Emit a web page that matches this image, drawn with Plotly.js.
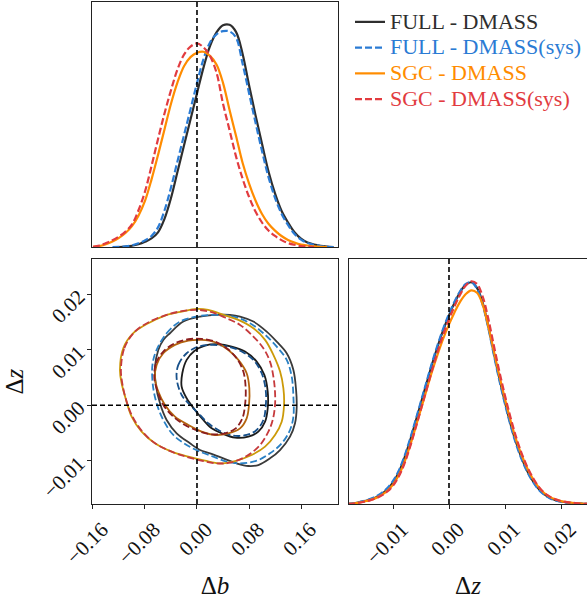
<!DOCTYPE html>
<html><head><meta charset="utf-8">
<script src="https://cdn.plot.ly/plotly-3.0.1.min.js"></script>
<style>html,body{margin:0;padding:0;background:#fff;} #chart{width:587px;height:599px;}</style>
</head><body><div id="chart"></div>
<script>
// ---------- labels ----------
const seriesNames = ['FULL - DMASS', 'FULL - DMASS(sys)', 'SGC - DMASS', 'SGC - DMASS(sys)'];
const dbTicks = [-0.16, -0.08, 0.0, 0.08, 0.16];
const dbTickText = ['\u22120.16', '\u22120.08', '0.00', '0.08', '0.16'];
const dzTicks = [-0.01, 0.0, 0.01, 0.02];
const dzTickText = ['\u22120.01', '0.00', '0.01', '0.02'];
const dbLabel = '\u0394<i>b</i>';
const dzLabel = '\u0394<i>z</i>';
const truthDb = 0.0;
const truthDz = 0.0;

// ---------- 1D marginal of Δb (normalised density) ----------
const fullDbX = [-0.12, -0.11, -0.10, -0.09, -0.08, -0.07, -0.06, -0.05, -0.04, -0.03, -0.02, -0.01, 0.00, 0.01, 0.02, 0.03, 0.04, 0.05, 0.06, 0.07, 0.08, 0.09, 0.10, 0.11, 0.12, 0.13, 0.14, 0.15, 0.16, 0.17, 0.18, 0.19, 0.20, 0.21];
const fullDbY = [0, 0.002, 0.005, 0.011, 0.021, 0.035, 0.060, 0.115, 0.200, 0.307, 0.414, 0.520, 0.627, 0.732, 0.820, 0.876, 0.905, 0.907, 0.878, 0.790, 0.661, 0.538, 0.421, 0.308, 0.219, 0.148, 0.100, 0.060, 0.034, 0.018, 0.010, 0.005, 0.002, 0];
const fullSysDbX = [-0.13, -0.12, -0.11, -0.10, -0.09, -0.08, -0.07, -0.06, -0.05, -0.04, -0.03, -0.02, -0.01, 0.00, 0.01, 0.02, 0.03, 0.04, 0.05, 0.06, 0.07, 0.08, 0.09, 0.10, 0.11, 0.12, 0.13, 0.14, 0.15, 0.16, 0.17, 0.18, 0.19, 0.20, 0.21];
const fullSysDbY = [0, 0.001, 0.003, 0.007, 0.015, 0.027, 0.045, 0.080, 0.149, 0.243, 0.350, 0.456, 0.562, 0.669, 0.767, 0.835, 0.868, 0.881, 0.880, 0.855, 0.750, 0.629, 0.508, 0.392, 0.285, 0.201, 0.136, 0.090, 0.053, 0.030, 0.016, 0.009, 0.004, 0.001, 0];
const sgcDbX = [-0.16, -0.15, -0.14, -0.13, -0.12, -0.11, -0.10, -0.09, -0.08, -0.07, -0.06, -0.05, -0.04, -0.03, -0.02, -0.01, 0.00, 0.01, 0.02, 0.03, 0.04, 0.05, 0.06, 0.07, 0.08, 0.09, 0.10, 0.11, 0.12, 0.13, 0.14, 0.15, 0.16, 0.17, 0.18, 0.19, 0.20];
const sgcDbY = [0.001, 0.004, 0.011, 0.022, 0.037, 0.057, 0.085, 0.128, 0.188, 0.275, 0.375, 0.480, 0.585, 0.672, 0.738, 0.775, 0.793, 0.797, 0.780, 0.745, 0.670, 0.560, 0.454, 0.345, 0.260, 0.190, 0.135, 0.095, 0.067, 0.045, 0.029, 0.018, 0.010, 0.006, 0.003, 0.001, 0];
const sgcSysDbX = [-0.16, -0.15, -0.14, -0.13, -0.12, -0.11, -0.10, -0.09, -0.08, -0.07, -0.06, -0.05, -0.04, -0.03, -0.02, -0.01, 0.00, 0.01, 0.02, 0.03, 0.04, 0.05, 0.06, 0.07, 0.08, 0.09, 0.10, 0.11, 0.12, 0.13, 0.14, 0.15, 0.16, 0.17, 0.18];
const sgcSysDbY = [0.001, 0.006, 0.016, 0.028, 0.043, 0.063, 0.092, 0.150, 0.226, 0.330, 0.440, 0.545, 0.640, 0.725, 0.785, 0.818, 0.831, 0.815, 0.780, 0.712, 0.585, 0.478, 0.370, 0.280, 0.205, 0.145, 0.100, 0.067, 0.045, 0.028, 0.016, 0.009, 0.004, 0.002, 0];

// ---------- 1D marginal of Δz ----------
const dzGrid = [-0.018, -0.017, -0.016, -0.015, -0.014, -0.013, -0.012, -0.011, -0.010, -0.009, -0.008, -0.007, -0.006, -0.005, -0.004, -0.003, -0.002, -0.001, 0.000, 0.001, 0.002, 0.003, 0.004, 0.005, 0.006, 0.007, 0.008, 0.009, 0.010, 0.011, 0.012, 0.013, 0.014, 0.015, 0.016, 0.017, 0.018, 0.019, 0.020, 0.021, 0.022, 0.023, 0.024, 0.025];
const fullDzY = [0, 0.003, 0.007, 0.012, 0.019, 0.028, 0.041, 0.060, 0.088, 0.128, 0.185, 0.255, 0.333, 0.413, 0.493, 0.572, 0.645, 0.712, 0.770, 0.822, 0.865, 0.895, 0.905, 0.882, 0.822, 0.728, 0.618, 0.512, 0.415, 0.326, 0.250, 0.186, 0.134, 0.093, 0.062, 0.040, 0.025, 0.016, 0.010, 0.006, 0.004, 0.002, 0.001, 0];
const fullSysDzY = [0, 0.003, 0.008, 0.013, 0.021, 0.031, 0.045, 0.065, 0.094, 0.135, 0.192, 0.262, 0.340, 0.420, 0.500, 0.579, 0.652, 0.718, 0.776, 0.827, 0.869, 0.898, 0.906, 0.878, 0.814, 0.720, 0.610, 0.504, 0.408, 0.320, 0.244, 0.181, 0.130, 0.090, 0.059, 0.038, 0.023, 0.015, 0.009, 0.005, 0.003, 0.002, 0.001, 0];
const sgcDzY = [0, 0.002, 0.006, 0.011, 0.017, 0.025, 0.037, 0.054, 0.079, 0.116, 0.168, 0.235, 0.310, 0.388, 0.466, 0.543, 0.613, 0.677, 0.733, 0.783, 0.826, 0.857, 0.872, 0.862, 0.815, 0.728, 0.625, 0.522, 0.428, 0.340, 0.262, 0.198, 0.145, 0.102, 0.069, 0.045, 0.029, 0.019, 0.012, 0.008, 0.005, 0.003, 0.001, 0];
const sgcSysDzY = [0, 0.002, 0.005, 0.010, 0.016, 0.024, 0.035, 0.051, 0.075, 0.111, 0.162, 0.230, 0.307, 0.387, 0.468, 0.548, 0.624, 0.693, 0.753, 0.808, 0.855, 0.892, 0.909, 0.898, 0.848, 0.758, 0.648, 0.540, 0.442, 0.352, 0.272, 0.205, 0.150, 0.106, 0.071, 0.046, 0.030, 0.019, 0.012, 0.008, 0.005, 0.003, 0.001, 0];

// ---------- 2D contours (Δb, Δz): outer = 95%, inner = 68% ----------
const fullOuterB = [-0.0416, -0.0210, 0.0046, 0.0303, 0.0508, 0.0662, 0.0867, 0.1072, 0.1226, 0.1380, 0.1483, 0.1524, 0.1534, 0.1508, 0.1431, 0.1277, 0.1123, 0.0944, 0.0790, 0.0610, 0.0405, 0.0200, 0.0046, -0.0108, -0.0313, -0.0467, -0.0569, -0.0636, -0.0646, -0.0595, -0.0518];
const fullOuterZ = [0.01296, 0.01506, 0.01596, 0.01626, 0.01626, 0.01596, 0.01506, 0.01326, 0.01146, 0.00936, 0.00636, 0.00276, -0.00024, -0.00324, -0.00564, -0.00804, -0.00954, -0.01074, -0.01092, -0.01044, -0.00954, -0.00864, -0.00804, -0.00684, -0.00504, -0.00264, 0.00036, 0.00396, 0.00696, 0.00996, 0.01176];
const fullSysOuterB = [-0.0621, -0.0467, -0.0262, -0.0005, 0.0251, 0.0559, 0.0816, 0.1021, 0.1226, 0.1380, 0.1457, 0.1483, 0.1483, 0.1431, 0.1303, 0.1123, 0.0918, 0.0662, 0.0457, 0.0251, 0.0046, -0.0159, -0.0364, -0.0518, -0.0621, -0.0682, -0.0682];
const fullSysOuterZ = [0.00996, 0.01296, 0.01506, 0.01596, 0.01626, 0.01596, 0.01476, 0.01296, 0.01056, 0.00816, 0.00516, 0.00156, -0.00204, -0.00444, -0.00684, -0.00864, -0.00996, -0.01044, -0.01014, -0.00924, -0.00834, -0.00714, -0.00534, -0.00264, 0.00036, 0.00396, 0.00756];
const sgcOuterB = [-0.1185, -0.1134, -0.0980, -0.0749, -0.0492, -0.0236, -0.0005, 0.0174, 0.0380, 0.0636, 0.0867, 0.1047, 0.1175, 0.1278, 0.1329, 0.1339, 0.1303, 0.1200, 0.1047, 0.0841, 0.0585, 0.0354, 0.0123, -0.0133, -0.0390, -0.0646, -0.0852, -0.1005, -0.1098, -0.1159];
const sgcOuterZ = [0.00636, 0.01026, 0.01296, 0.01476, 0.01614, 0.01686, 0.01734, 0.01716, 0.01638, 0.01536, 0.01386, 0.01176, 0.00906, 0.00606, 0.00306, 0.00006, -0.00294, -0.00534, -0.00744, -0.00894, -0.01002, -0.01044, -0.00996, -0.00924, -0.00834, -0.00684, -0.00474, -0.00204, 0.00126, 0.00396];
const sgcSysOuterB = [-0.1170, -0.1118, -0.0954, -0.0723, -0.0467, -0.0210, 0.0021, 0.0226, 0.0431, 0.0662, 0.0867, 0.1021, 0.1123, 0.1175, 0.1200, 0.1200, 0.1165, 0.1098, 0.0970, 0.0764, 0.0508, 0.0303, 0.0097, -0.0133, -0.0390, -0.0646, -0.0852, -0.1005, -0.1098, -0.1149];
const sgcSysOuterZ = [0.00636, 0.01026, 0.01326, 0.01506, 0.01626, 0.01698, 0.01716, 0.01674, 0.01578, 0.01446, 0.01236, 0.01026, 0.00786, 0.00516, 0.00246, 0.0, -0.00264, -0.00474, -0.00714, -0.00912, -0.01032, -0.01044, -0.01002, -0.00936, -0.00834, -0.00684, -0.00456, -0.00174, 0.00126, 0.00396];
const fullInnerB = [-0.0236, -0.0226, -0.0159, -0.0041, 0.0123, 0.0328, 0.0534, 0.0739, 0.0918, 0.1036, 0.1088, 0.1088, 0.1047, 0.0944, 0.0790, 0.0585, 0.0380, 0.0226, 0.0097, -0.0031, -0.0159];
const fullInnerZ = [0.00336, 0.00576, 0.00816, 0.00978, 0.01074, 0.01098, 0.01056, 0.00966, 0.00786, 0.00546, 0.00246, -0.00054, -0.00294, -0.00474, -0.00564, -0.00582, -0.00504, -0.00414, -0.00264, -0.00084, 0.00126];
const fullSysInnerB = [-0.0313, -0.0287, -0.0159, 0.0021, 0.0226, 0.0482, 0.0687, 0.0867, 0.0995, 0.1057, 0.1057, 0.1021, 0.0918, 0.0764, 0.0559, 0.0354, 0.0174, 0.0046, -0.0108, -0.0236];
const fullSysInnerZ = [0.00486, 0.00726, 0.00936, 0.01056, 0.01086, 0.01056, 0.00966, 0.00816, 0.00576, 0.00276, -0.00024, -0.00264, -0.00444, -0.00534, -0.00546, -0.00462, -0.00324, -0.00174, 0.00006, 0.00186];
const sgcInnerB = [-0.0646, -0.0621, -0.0518, -0.0339, -0.0133, 0.0072, 0.0277, 0.0482, 0.0636, 0.0764, 0.0805, 0.0800, 0.0764, 0.0662, 0.0482, 0.0277, 0.0072, -0.0133, -0.0339, -0.0492, -0.0595];
const sgcInnerZ = [0.00486, 0.00726, 0.00936, 0.01086, 0.01164, 0.01176, 0.01134, 0.00996, 0.00816, 0.00576, 0.00306, 0.00006, -0.00234, -0.00414, -0.00504, -0.00534, -0.00474, -0.00354, -0.00204, 0.00006, 0.00246];
const sgcSysInnerB = [-0.0656, -0.0631, -0.0518, -0.0339, -0.0133, 0.0072, 0.0277, 0.0457, 0.0610, 0.0713, 0.0749, 0.0739, 0.0698, 0.0595, 0.0431, 0.0226, 0.0021, -0.0185, -0.0364, -0.0518, -0.0605];
const sgcSysInnerZ = [0.00486, 0.00756, 0.00966, 0.01116, 0.01188, 0.01194, 0.01146, 0.01026, 0.00846, 0.00606, 0.00306, 0.00006, -0.00234, -0.00414, -0.00504, -0.00522, -0.00462, -0.00354, -0.00204, 0.00006, 0.00246];

// ---------- styles ----------
const lineColors = ['#2e2e2e', '#2a7bd4', '#ff8c00', '#e23b3f'];
const outerColors = ['#3a3a3a', '#2a80c4', '#cc9a08', '#c63a3c'];
const innerColors = ['#1c1c1c', '#17508a', '#b4640e', '#8c1e1e'];
const dashes = ['solid', '7px,3px', 'solid', '7px,3px'];
const serif = 'Liberation Serif, Times New Roman, serif';

const dbX = [fullDbX, fullSysDbX, sgcDbX, sgcSysDbX];
const dbY = [fullDbY, fullSysDbY, sgcDbY, sgcSysDbY];
const dzY = [fullDzY, fullSysDzY, sgcDzY, sgcSysDzY];
const outB = [fullOuterB, fullSysOuterB, sgcOuterB, sgcSysOuterB];
const outZ = [fullOuterZ, fullSysOuterZ, sgcOuterZ, sgcSysOuterZ];
const inB = [fullInnerB, fullSysInnerB, sgcInnerB, sgcSysInnerB];
const inZ = [fullInnerZ, fullSysInnerZ, sgcInnerZ, sgcSysInnerZ];
const close = a => a.concat([a[0]]);

const traces = [];
for (let i = 0; i < 4; i++) {
  traces.push({
    x: dbX[i], y: dbY[i], xaxis: 'x', yaxis: 'y', type: 'scatter', mode: 'lines',
    line: {color: lineColors[i], width: 2.2, dash: dashes[i], shape: 'spline', smoothing: 1},
    name: '<span style="color:' + lineColors[i] + ';font-size:22px">' + seriesNames[i] + '</span>',
    showlegend: true, hoverinfo: 'skip'
  });
}
for (let i = 0; i < 4; i++) {
  traces.push({
    x: close(outB[i]), y: close(outZ[i]), xaxis: 'x2', yaxis: 'y2', type: 'scatter', mode: 'lines',
    line: {color: outerColors[i], width: 1.8, dash: dashes[i], shape: 'spline', smoothing: 1},
    showlegend: false, hoverinfo: 'skip'
  });
  traces.push({
    x: close(inB[i]), y: close(inZ[i]), xaxis: 'x2', yaxis: 'y2', type: 'scatter', mode: 'lines',
    line: {color: innerColors[i], width: 1.8, dash: dashes[i], shape: 'spline', smoothing: 1},
    showlegend: false, hoverinfo: 'skip'
  });
}
for (let i = 0; i < 4; i++) {
  traces.push({
    x: dzGrid, y: dzY[i], xaxis: 'x3', yaxis: 'y3', type: 'scatter', mode: 'lines',
    line: {color: lineColors[i], width: 2.2, dash: dashes[i], shape: 'spline', smoothing: 1},
    showlegend: false, hoverinfo: 'skip'
  });
}

const W = 587, H = 599;
const colL = [92 / W, 338 / W], colR = [349 / W, 1];
const rowT = [1 - 247 / H, 1 - 2 / H], rowB = [1 - 504 / H, 1 - 259 / H];
const dbRange = [-0.1615, 0.2169];
const dzRangeY = [-0.01775, 0.02631];
const dzRangeX = [-0.017857, 0.024643];
const tickFont = {family: serif, size: 21, color: '#111'};
const titleFont = {family: serif, size: 25, color: '#111'};
const frame = {showline: true, linecolor: '#222', linewidth: 1, zeroline: false, showgrid: false};
const tickStyle = {ticks: 'outside', ticklen: 4, tickwidth: 1, tickcolor: '#222', tickangle: -45, tickfont: tickFont};

const layout = {
  width: W, height: H,
  margin: {l: 0, r: 0, t: 0, b: 0},
  paper_bgcolor: '#fff', plot_bgcolor: '#fff',
  showlegend: true,
  legend: {x: 350 / W, y: 1 - 4 / H, xanchor: 'left', yanchor: 'top', bgcolor: 'rgba(0,0,0,0)',
           font: {family: serif, size: 17.5, color: '#333'}, itemwidth: 30, tracegroupgap: 0},
  xaxis: Object.assign({domain: colL, anchor: 'y', range: dbRange, mirror: true, ticks: '', showticklabels: false}, frame),
  yaxis: Object.assign({domain: rowT, anchor: 'x', range: [0, 1], mirror: true, ticks: '', showticklabels: false}, frame),
  xaxis2: Object.assign({domain: colL, anchor: 'y2', range: dbRange, mirror: true, tickvals: dbTicks, ticktext: dbTickText,
           ticklabelshift: 9, title: {text: dbLabel, font: titleFont, standoff: 18}}, tickStyle, frame),
  yaxis2: Object.assign({domain: rowB, anchor: 'x2', range: dzRangeY, mirror: true, tickvals: dzTicks, ticktext: dzTickText,
           ticklabelstandoff: 4}, tickStyle, frame),
  xaxis3: Object.assign({domain: colR, anchor: 'y3', range: dzRangeX, mirror: true, tickvals: dzTicks, ticktext: dzTickText,
           ticklabelshift: 9, title: {text: dzLabel, font: titleFont, standoff: 18}}, tickStyle, frame),
  yaxis3: Object.assign({domain: rowB, anchor: 'x3', range: [0, 1], mirror: false, ticks: '', showticklabels: false}, frame),
  annotations: [
    {text: dzLabel, xref: 'paper', yref: 'paper', x: 14 / W, y: 1 - 381.5 / H, xanchor: 'center', yanchor: 'middle',
     textangle: -90, showarrow: false, font: titleFont}
  ],
  shapes: [
    {type: 'line', xref: 'x', yref: 'y domain', x0: truthDb, x1: truthDb, y0: 0, y1: 1, layer: 'above', line: {color: '#000', width: 1.6, dash: '5px,3px'}},
    {type: 'line', xref: 'x2', yref: 'y2 domain', x0: truthDb, x1: truthDb, y0: 0, y1: 1, layer: 'above', line: {color: '#000', width: 1.6, dash: '5px,3px'}},
    {type: 'line', xref: 'x2 domain', yref: 'y2', x0: 0, x1: 1, y0: truthDz, y1: truthDz, layer: 'above', line: {color: '#000', width: 1.6, dash: '5px,3px'}},
    {type: 'line', xref: 'x3', yref: 'y3 domain', x0: truthDz, x1: truthDz, y0: 0, y1: 1, layer: 'above', line: {color: '#000', width: 1.6, dash: '5px,3px'}}
  ]
};

Plotly.newPlot('chart', traces, layout, {staticPlot: true, displayModeBar: false});
</script></body></html>
